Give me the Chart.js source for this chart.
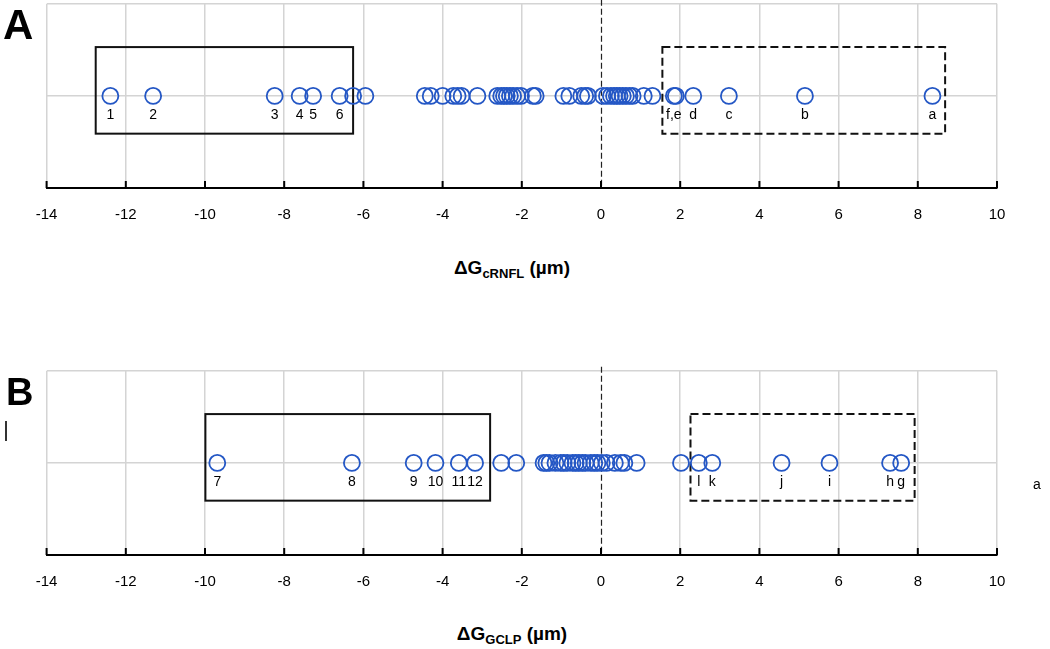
<!DOCTYPE html>
<html><head><meta charset="utf-8">
<script src="https://cdn.jsdelivr.net/npm/chart.js@4.4.1/dist/chart.umd.min.js"></script>
<style>
body{margin:0;background:#fff;width:1050px;height:649px;position:relative;overflow:hidden;font-family:'Liberation Sans',Arial,sans-serif;}
canvas{position:absolute;left:0;}
.letter{position:absolute;font-weight:bold;color:#000;line-height:1;font-family:'Liberation Sans',Arial,sans-serif;}
.xt{position:absolute;left:0;width:1024px;text-align:center;font-weight:bold;font-size:19px;line-height:22px;color:#000;font-family:'Liberation Sans Narrow','Liberation Sans',Arial,sans-serif;}
.xt sub{font-size:13px;vertical-align:-4px;line-height:0;}
</style></head>
<body>
<canvas id="cA" width="1050" height="248" style="top:-6px"></canvas>
<canvas id="cB" width="1050" height="248" style="top:361px"></canvas>
<div class="letter" style="left:3px;top:4px;font-size:42px">A</div>
<div class="letter" style="left:6px;top:373px;font-size:38px">B</div>
<div style="position:absolute;left:5px;top:421px;width:1.5px;height:20px;background:#333"></div>
<div style="position:absolute;left:1033px;top:476px;font-size:14px;color:#000">a</div>
<div class="xt" style="top:257px">ΔG<sub>cRNFL</sub> (µm)</div>
<div class="xt" style="top:623px">ΔG<sub>GCLP</sub> (µm)</div>
<script>
// ---- data ----
const xTickValues = [-14,-12,-10,-8,-6,-4,-2,0,2,4,6,8,10];

const cRNFL_values = [-12.39,-11.31,-8.24,-7.61,-7.27,-6.60,-6.26,-5.95,
  -4.45,-4.30,-4.00,-3.73,-3.62,-3.52,-3.12,
  -2.62,-2.52,-2.45,-2.38,-2.30,-2.22,-2.12,-2.02,-1.72,-1.65,
  -0.95,-0.80,-0.50,-0.40,-0.33,
  0.05,0.15,0.25,0.33,0.40,0.47,0.55,0.63,0.72,0.80,1.08,1.30,
  1.84,1.89,2.33,3.23,5.15,8.37];
const cRNFL_labels = ['1','2','3','4','5','6','','',
  '','','','','','','',
  '','','','','','','','','','',
  '','','','','',
  '','','','','','','','','','','','',
  'f,e','','d','c','b','a'];
const cRNFL_solidBox = [-12.76,-6.26];
const cRNFL_dashedBox = [1.55,8.69];

const GCLP_values = [-9.69,-6.29,-4.73,-4.18,-3.59,-3.18,-2.52,-2.14,
  -1.45,-1.38,-1.30,-1.15,-1.02,-0.94,-0.85,-0.72,-0.64,-0.56,-0.47,-0.39,-0.26,-0.17,-0.09,
  0.02,0.14,0.35,0.50,0.59,0.90,
  2.02,2.47,2.81,4.56,5.77,7.30,7.58];
const GCLP_labels = ['7','8','9','10','11','12','','',
  '','','','','','','','','','','','','','','',
  '','','','','','',
  '','l','k','j','i','h','g'];
const GCLP_solidBox = [-9.99,-2.80];
const GCLP_dashedBox = [2.26,7.92];
const boxYRange = [0.59,1.53];

// ---- drawing ----
const overlay = {
  id:'overlay',
  beforeDatasetsDraw(chart){
    const {ctx, chartArea:ca, scales:{x,y}} = chart;
    const o = chart.options.plugins.overlay;
    ctx.save();
    ctx.strokeStyle='#222'; ctx.lineWidth=1.2; ctx.setLineDash([6,3]);
    const x0 = Math.round(x.getPixelForValue(0))+0.5;
    ctx.beginPath(); ctx.moveTo(x0, ca.top-4); ctx.lineTo(x0, ca.bottom); ctx.stroke();
    const yt = y.getPixelForValue(boxYRange[1]), yb = y.getPixelForValue(boxYRange[0]);
    ctx.lineWidth=2; ctx.strokeStyle='#111';
    ctx.setLineDash([]);
    let l=x.getPixelForValue(o.solid[0]), r=x.getPixelForValue(o.solid[1]);
    ctx.strokeRect(l, yt, r-l, yb-yt);
    ctx.setLineDash([8,4]);
    l=x.getPixelForValue(o.dashed[0]); r=x.getPixelForValue(o.dashed[1]);
    ctx.strokeRect(l, yt, r-l, yb-yt);
    ctx.restore();
  },
  afterDraw(chart){
    const {ctx, chartArea:ca, scales:{x}} = chart;
    const o = chart.options.plugins.overlay;
    ctx.save();
    ctx.strokeStyle='#000'; ctx.lineWidth=2;
    x.ticks.forEach(t=>{
      const px = x.getPixelForValue(t.value);
      ctx.beginPath(); ctx.moveTo(px, ca.bottom); ctx.lineTo(px, ca.bottom-7); ctx.stroke();
    });
    ctx.fillStyle='#000'; ctx.font='14px "Liberation Sans", Arial, sans-serif';
    ctx.textAlign='center'; ctx.textBaseline='middle';
    const meta = chart.getDatasetMeta(0);
    meta.data.forEach((pt,i)=>{
      const s = o.labels[i];
      if(s) ctx.fillText(s, pt.x, pt.y+19);
    });
    ctx.restore();
  }
};

function makeChart(id, values, labels, solid, dashed){
  const pts = values.map(v=>({x:v,y:1}));
  return new Chart(document.getElementById(id), {
    type:'scatter',
    data:{datasets:[{data:pts, pointRadius:8, pointHoverRadius:8, pointBorderWidth:1.8,
      borderColor:'#2457c5', pointBorderColor:'#2457c5', pointBackgroundColor:'rgba(0,0,0,0)', showLine:false}]},
    options:{
      responsive:false, animation:false, devicePixelRatio:1,
      layout:{padding:{left:46.6, right:53, top:4, bottom:0}},
      plugins:{legend:{display:false}, tooltip:{enabled:false},
        overlay:{labels, solid, dashed}},
      scales:{
        x:{type:'linear', min:-14, max:10,
          afterBuildTicks:(s)=>{ s.ticks = xTickValues.map(v=>({value:v})); },
          ticks:{padding:18, color:'#000', autoSkip:false, maxRotation:0,
            font:{family:"'Liberation Sans Narrow','Liberation Sans',Arial,sans-serif", size:15}},
          grid:{color:(c)=> (c.tick && c.tick.value===0) ? 'rgba(0,0,0,0)' : '#d4d4d4', lineWidth:1.5, drawTicks:false},
          border:{display:true, color:'#000', width:2}},
        y:{type:'linear', min:0, max:2,
          afterBuildTicks:(s)=>{ s.ticks = [0,1,2].map(v=>({value:v})); },
          ticks:{display:false},
          grid:{color:'#d4d4d4', lineWidth:1.5, drawTicks:false},
          border:{display:false}}
      }
    },
    plugins:[overlay]
  });
}
makeChart('cA', cRNFL_values, cRNFL_labels, cRNFL_solidBox, cRNFL_dashedBox);
makeChart('cB', GCLP_values, GCLP_labels, GCLP_solidBox, GCLP_dashedBox);
</script>
</body></html>
